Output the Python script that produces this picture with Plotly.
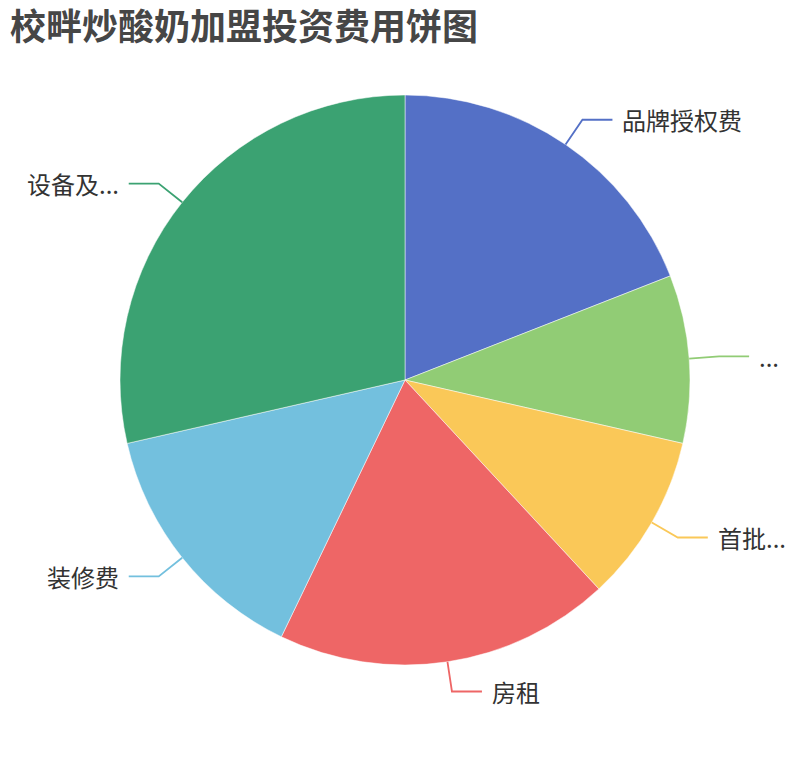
import math
import plotly.graph_objects as go

W, H = 810, 760
OFF = 8  # page body margin in the browser

# slices, clockwise from 12 o'clock (labels as shown, incl. truncation)
labels = ["品牌授权费", "...", "首批...", "房租", "装修费", "设备及..."]
values = [40000, 20000, 20000, 40000, 30000, 60000]
colors = ["#5470c6", "#91cc75", "#fac858", "#ee6666", "#73c0de", "#3ba272"]

title = "校畔炒酸奶加盟投资费用饼图"

cx, cy, r = 405 - OFF, 380 - OFF, 285   # pie centre / radius in px
len1, len2, gap = 30, 30, 8  # label line segments


def px(x):
    return x / W


def py(y):
    return 1 - y / H


fig = go.Figure(go.Pie(
    labels=labels,
    values=values,
    sort=False,
    direction="clockwise",
    rotation=0,
    marker=dict(colors=colors, line=dict(color="white", width=0.5)),
    textinfo="none",
    showlegend=False,
    domain=dict(x=[px(cx - r), px(cx + r)], y=[py(cy + r), py(cy - r)]),
))

# leader lines + labels, from each slice's mid angle
total = sum(values)
shapes, annotations = [], []
acc = 0
for lab, v, c in zip(labels, values, colors):
    mid = (acc + v / 2) / total * 2 * math.pi
    acc += v
    s, co = math.sin(mid), math.cos(mid)
    x0, y0 = cx + r * s, cy - r * co
    x1, y1 = cx + (r + len1) * s, cy - (r + len1) * co
    side = 1 if s >= 0 else -1
    x2 = x1 + side * len2
    shapes.append(dict(
        type="path", xref="paper", yref="paper",
        path=f"M {px(x0)},{py(y0)} L {px(x1)},{py(y1)} L {px(x2)},{py(y1)}",
        line=dict(color=c, width=1.8),
    ))
    annotations.append(dict(
        x=px(x2 + side * gap), y=py(y1), xref="paper", yref="paper",
        text=lab, showarrow=False,
        xanchor="left" if side > 0 else "right", yanchor="middle",
        font=dict(size=24, color="#333333", family="Noto Sans CJK SC"),
    ))

fig.update_layout(
    width=W, height=H,
    margin=dict(l=0, r=0, t=0, b=0),
    paper_bgcolor="white",
    title=dict(
        text=f"<b>{title}</b>",
        x=(10 - OFF) / W, xanchor="left",
        y=1 - (27 - OFF) / H, yanchor="middle", yref="container",
        font=dict(size=36, color="#464646", family="Noto Sans CJK SC"),
    ),
    shapes=shapes,
    annotations=annotations,
)

fig.write_html("out.html")
